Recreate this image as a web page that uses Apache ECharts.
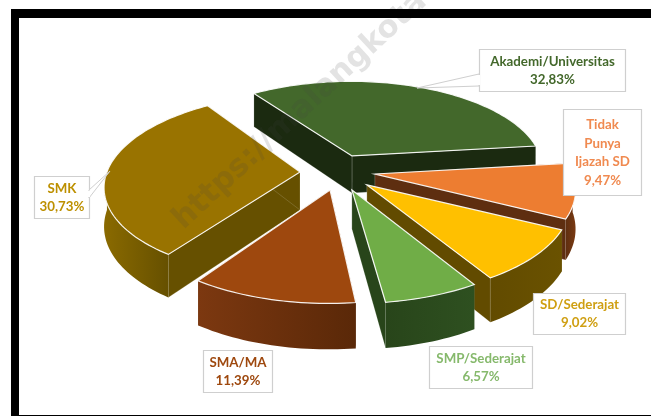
<!DOCTYPE html>
<html>
<head>
<meta charset="utf-8">
<style>html,body{margin:0;padding:0;background:#fff}#chart{width:651px;height:416px}</style>
<script src="https://cdn.jsdelivr.net/npm/echarts@6/dist/echarts.min.js"></script>
</head>
<body>
<div id="chart"></div>
<script>
// Education attainment shares, clockwise from the first slice
const categories = ['Akademi/Universitas', 'Tidak\nPunya\nIjazah SD', 'SD/Sederajat', 'SMP/Sederajat', 'SMA/MA', 'SMK'];
const values = [32.83, 9.47, 9.02, 6.57, 11.39, 30.73];

// Slice styling
const topColors = ['#43682b', '#ed7d31', '#ffc000', '#70ad47', '#9e480e', '#997300'];
const sideColors = ['#1b2a10', '#5e2e10', '#624b00', '#28451a', '#5a2808', '#665000'];
const rimColors = ['#1b2a10', '#7a3a12', '#6a5200', '#2e5020', '#7c3810', '#8a6a00'];
const textColors = ['#43682b', '#f08a50', '#cf9f12', '#86b96c', '#9e480e', '#bd9000'];

// Tilted-disc layout: exploded offset, radius factor and small turn per slice
const sliceOffsetX = [0.063, 0.177, 0.134, 0.059, -0.049, -0.203];
const sliceOffsetY = [-0.181, 0.022, 0.139, 0.192, 0.192, 0];
const sliceRadius = [0.98, 1, 1, 1, 1, 0.98];
const sliceTurn = [0, 0, -1, -1, 0, 1];
const paintOrder = [0, 5, 1, 2, 3, 4];
const firstAngle = -125;
const centerX = 340, centerY = 172, scaleX = 197, scaleY = 91.2, persp = 0.145, depth = 38;

// Label boxes: left, top, width, height, text line height
const labelBoxes = [
  [479, 49, 146, 42, 18],
  [563, 109, 78, 86, 18.5],
  [533, 293, 92, 41, 18],
  [429, 346, 103, 42, 18],
  [203, 350, 69, 42, 18],
  [34, 176, 55, 42, 18]
];
// Leader wedges for the two labels that have one: tip, then the two points on the box
const leaders = { 0: [[417, 88], [479, 74], [479, 86]], 5: [[110, 171], [89, 190], [89, 198]] };

const total = values.reduce((a, b) => a + b, 0);
const spans = [];
values.reduce((start, v, i) => {
  const end = start + v / total * 360;
  spans[i] = [start + sliceTurn[i], end + sliceTurn[i]];
  return end;
}, firstAngle);

function project(X, Y, z) {
  const w = 1 - persp * Y;
  return [centerX + scaleX * X / w, centerY + (scaleY * Y + z) / w];
}
function rimPoint(i, deg, z) {
  const a = deg * Math.PI / 180, r = sliceRadius[i];
  return project(sliceOffsetX[i] + r * Math.cos(a), sliceOffsetY[i] + r * Math.sin(a), z);
}
function arcPoints(i, from, to, z) {
  const pts = [], n = Math.max(2, Math.ceil(Math.abs(to - from) / 1.5));
  for (let j = 0; j <= n; j++) pts.push(rimPoint(i, from + (to - from) * j / n, z));
  return pts;
}
function apex(i, z) { return project(sliceOffsetX[i], sliceOffsetY[i], z); }
const rimLine = { stroke: 'rgba(255,255,255,0.9)', lineWidth: 1.2 };

function radialWall(i, deg) {
  return {
    type: 'polygon',
    shape: { points: [apex(i, 0), rimPoint(i, deg, 0), rimPoint(i, deg, depth), apex(i, depth)] },
    style: { fill: sideColors[i], stroke: 'rgba(255,255,255,0.25)', lineWidth: 0.6 }
  };
}

function renderSlice(params) {
  const i = paintOrder[params.dataIndex];
  const [a0, a1] = spans[i];
  const children = [radialWall(i, a0), radialWall(i, a1)];
  // Outer wall only where the rim faces the viewer
  const from = Math.max(a0, 0), to = Math.min(a1, 180);
  if (to > from) {
    const upper = arcPoints(i, from, to, 0);
    const lower = arcPoints(i, to, from, depth);
    children.push({
      type: 'polygon',
      shape: { points: upper.concat(lower) },
      style: {
        fill: new echarts.graphic.LinearGradient(0, 0, 1, 0, [
          { offset: 0, color: i === 5 || i === 4 ? rimColors[i] : sideColors[i] },
          { offset: 1, color: i === 5 || i === 4 ? sideColors[i] : rimColors[i] }
        ])
      }
    });
  }
  children.push({
    type: 'polygon',
    shape: { points: [apex(i, 0)].concat(arcPoints(i, a0, a1, 0)) },
    style: Object.assign({ fill: topColors[i] }, rimLine)
  });
  return { type: 'group', children };
}

function percentText(v) { return v.toFixed(2).replace('.', ',') + '%'; }

function renderLabel(params) {
  const i = params.dataIndex;
  const [x, y, w, h, lh] = labelBoxes[i];
  const children = [];
  children.push({
    type: 'rect',
    shape: { x: x + 0.5, y: y + 0.5, width: w, height: h },
    style: { fill: '#fff', stroke: '#cfcfcf', lineWidth: 1.2 }
  });
  if (leaders[i]) {
    children.push({
      type: 'polygon',
      shape: { points: leaders[i] },
      style: { fill: '#fff', stroke: '#cfcfcf', lineWidth: 1 }
    });
    const [, p1, p2] = leaders[i];
    children.push({
      type: 'line',
      shape: { x1: p1[0], y1: p1[1] + 1, x2: p2[0], y2: p2[1] - 1 },
      style: { stroke: '#fff', lineWidth: 2 }
    });
  }
  children.push({
    type: 'text',
    style: {
      x: x + w / 2 + 0.5,
      y: y + h / 2 + 0.5,
      text: categories[i] + '\n' + percentText(values[i]),
      fill: textColors[i],
      font: 'bold 13.3px Lato',
      lineHeight: lh,
      align: 'center',
      verticalAlign: 'middle'
    }
  });
  return { type: 'group', children };
}

const chart = echarts.init(document.getElementById('chart'), null, { renderer: 'canvas' });
chart.setOption({
  animation: false,
  backgroundColor: '#fff',
  series: [
    { type: 'custom', coordinateSystem: 'none', renderItem: renderSlice, data: paintOrder.map(i => values[i]), z: 2, silent: true },
    { type: 'custom', coordinateSystem: 'none', renderItem: renderLabel, data: values, z: 4, silent: true }
  ],
  graphic: [
    {
      type: 'text', z: 3, x: 178, y: 224, rotation: Math.PI * 0.238, silent: true,
      style: { text: 'https://malangkota', font: 'bold 31px "DejaVu Sans"', fill: 'rgba(70,70,70,0.15)', verticalAlign: 'middle' }
    },
    { type: 'rect', z: 10, shape: { x: 11, y: 9, width: 640, height: 9 }, style: { fill: '#000' }, silent: true },
    { type: 'rect', z: 10, shape: { x: 11, y: 9, width: 8, height: 407 }, style: { fill: '#000' }, silent: true },
    { type: 'rect', z: 10, shape: { x: 11, y: 415, width: 640, height: 1 }, style: { fill: '#000' }, silent: true }
  ]
});
</script>
</body>
</html>
